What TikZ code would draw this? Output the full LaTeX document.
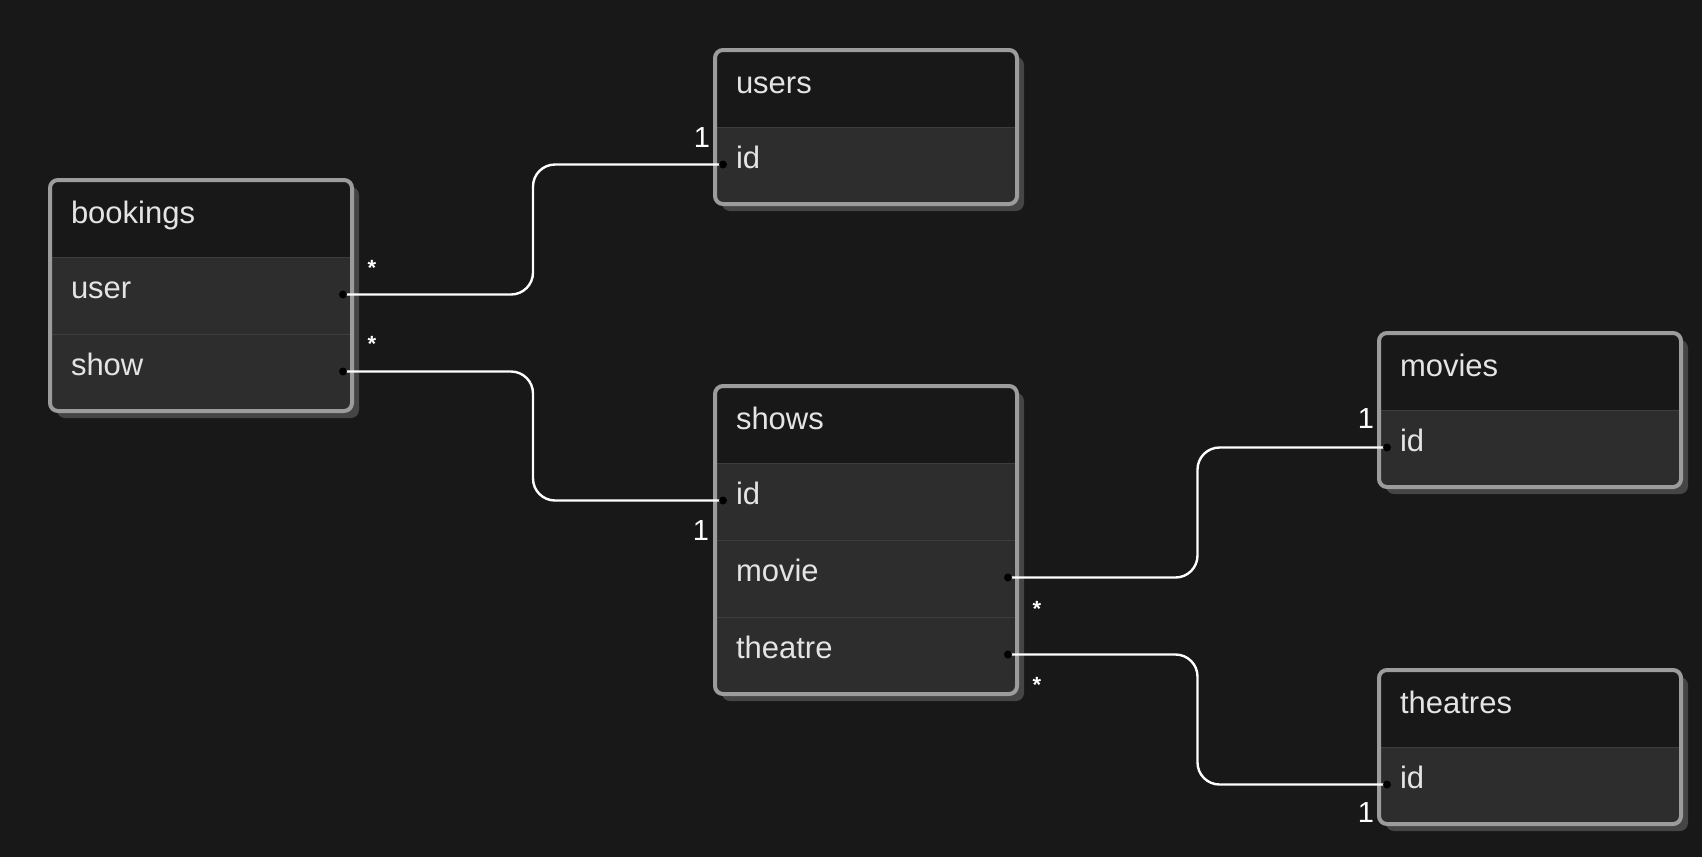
\documentclass[tikz,border=0pt]{standalone}
\usepackage{fontspec}
\setmainfont{Liberation Sans}
\usetikzlibrary{positioning}

\definecolor{bg}{HTML}{181818}
\definecolor{rowfill}{HTML}{2D2D2D}
\definecolor{rimgray}{HTML}{9C9C9C}
\definecolor{shade}{HTML}{454545}
\definecolor{sep}{HTML}{3D3D3D}
\definecolor{ink}{HTML}{E4E4E4}
\newcommand\erfont{\fontsize{31}{36}\selectfont}

\tikzset{
  head/.style={rectangle, fill=bg, draw=sep, line width=1pt, outer sep=0pt, minimum width=302, minimum height=77,
    inner xsep=21pt, inner ysep=0pt, text width=260pt, text height=18pt, text depth=9pt,
    align=left, text=ink, font=\erfont, anchor=north west},
  field/.style={head, fill=rowfill, text depth=13pt},
  rim/.style={draw=rimgray, line width=4pt, rounded corners=8pt},
  shadow/.style={fill=shade, rounded corners=8pt},
  link/.style={draw=white, line width=2.4pt, rounded corners=22pt},
  pin/.style={fill=black},
  card/.style={text=white, inner sep=0pt, font=\fontsize{29}{34}\selectfont},
  many/.style={text=white, inner sep=0pt, font=\fontsize{22}{26}\selectfont\bfseries},
}

\begin{document}
\begin{tikzpicture}[x=1pt,y=-1pt]
  \fill[bg] (0,0) rectangle (1702,857);
  \useasboundingbox (0,0) rectangle (1702,857);

  % bookings
  \fill[shadow] (57,187) rectangle +(302,231);
  \begin{scope}
    \clip[rounded corners=8pt] (50,180) rectangle +(302,231);
    \node[head] (bookings) at (50,180) {bookings};
    \node[field, below=0pt of bookings] (bookings-user) {user};
    \node[field, below=0pt of bookings-user] (bookings-show) {show};
  \end{scope}
  \draw[rim] (50,180) rectangle +(302,231);

  % users
  \fill[shadow] (722,57) rectangle +(302,154);
  \begin{scope}
    \clip[rounded corners=8pt] (715,50) rectangle +(302,154);
    \node[head] (users) at (715,50) {users};
    \node[field, below=0pt of users] (users-id) {id};
  \end{scope}
  \draw[rim] (715,50) rectangle +(302,154);

  % shows
  \fill[shadow] (722,393) rectangle +(302,308);
  \begin{scope}
    \clip[rounded corners=8pt] (715,386) rectangle +(302,308);
    \node[head] (shows) at (715,386) {shows};
    \node[field, below=0pt of shows] (shows-id) {id};
    \node[field, below=0pt of shows-id] (shows-movie) {movie};
    \node[field, below=0pt of shows-movie] (shows-theatre) {theatre};
  \end{scope}
  \draw[rim] (715,386) rectangle +(302,308);

  % movies
  \fill[shadow] (1386,340) rectangle +(302,154);
  \begin{scope}
    \clip[rounded corners=8pt] (1379,333) rectangle +(302,154);
    \node[head] (movies) at (1379,333) {movies};
    \node[field, below=0pt of movies] (movies-id) {id};
  \end{scope}
  \draw[rim] (1379,333) rectangle +(302,154);

  % theatres
  \fill[shadow] (1386,677) rectangle +(302,154);
  \begin{scope}
    \clip[rounded corners=8pt] (1379,670) rectangle +(302,154);
    \node[head] (theatres) at (1379,670) {theatres};
    \node[field, below=0pt of theatres] (theatres-id) {id};
  \end{scope}
  \draw[rim] (1379,670) rectangle +(302,154);

  % pins
  \coordinate (bookings-user-pin) at ([xshift=-9pt,yshift=1pt]bookings-user.east);
  \coordinate (bookings-show-pin) at ([xshift=-9pt,yshift=1pt]bookings-show.east);
  \coordinate (shows-movie-pin) at ([xshift=-9pt,yshift=1pt]shows-movie.east);
  \coordinate (shows-theatre-pin) at ([xshift=-9pt,yshift=1pt]shows-theatre.east);
  \coordinate (users-id-pin) at ([xshift=8pt,yshift=1pt]users-id.west);
  \coordinate (shows-id-pin) at ([xshift=8pt,yshift=1pt]shows-id.west);
  \coordinate (movies-id-pin) at ([xshift=8pt,yshift=1pt]movies-id.west);
  \coordinate (theatres-id-pin) at ([xshift=8pt,yshift=1pt]theatres-id.west);

  % links
  \path (bookings-user-pin) -- coordinate[midway] (m1) (users-id-pin);
  \path (bookings-show-pin) -- coordinate[midway] (m2) (shows-id-pin);
  \path (shows-movie-pin) -- coordinate[midway] (m3) (movies-id-pin);
  \path (shows-theatre-pin) -- coordinate[midway] (m4) (theatres-id-pin);
  \draw[link] (bookings-user-pin) -| (m1) |- (users-id-pin);
  \draw[link] (bookings-show-pin) -| (m2) |- (shows-id-pin);
  \draw[link] (shows-movie-pin) -| (m3) |- (movies-id-pin);
  \draw[link] (shows-theatre-pin) -| (m4) |- (theatres-id-pin);

  \foreach \p in {bookings-user, bookings-show, shows-movie, shows-theatre,
                  users-id, shows-id, movies-id, theatres-id}
    \fill[pin] (\p-pin) circle (4pt);

  % cardinalities
  \node[many] (bookings-user-card) at (372,268) {*};
  \node[many] (bookings-show-card) at (372,344) {*};
  \node[many] (shows-movie-card) at (1037,609) {*};
  \node[many] (shows-theatre-card) at (1037,685) {*};
  \node[card] (users-id-card) at (702,138) {1};
  \node[card] (shows-id-card) at (701,531) {1};
  \node[card] (movies-id-card) at (1366,419) {1};
  \node[card] (theatres-id-card) at (1366,813) {1};
\end{tikzpicture}
\end{document}
